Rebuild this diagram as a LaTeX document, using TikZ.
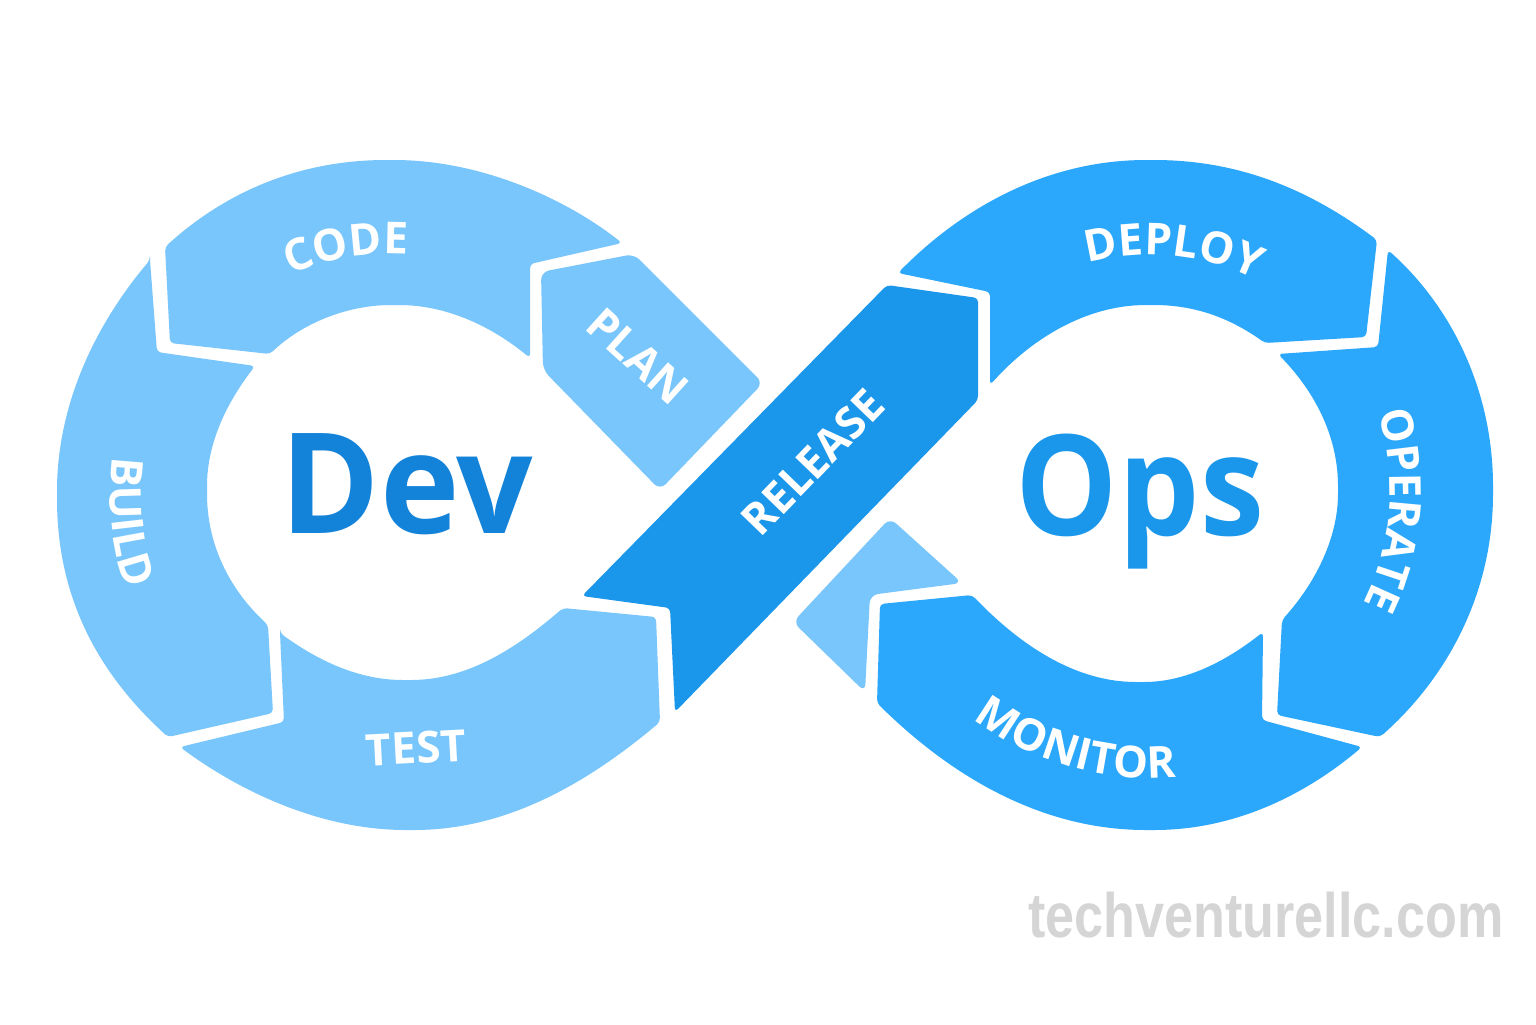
\documentclass[tikz,border=0pt]{standalone}
\usepackage{fontspec}
\usetikzlibrary{decorations.text}
\newfontfamily\osans{Open Sans}
\newfontfamily\lsans{Liberation Sans}
\newcommand\labfont{\osans\bfseries\fontsize{22}{22}\selectfont}
\definecolor{lightb}{HTML}{78C6FB}
\definecolor{relb}{HTML}{1A96EA}
\definecolor{opsb}{HTML}{2BA7FC}
\definecolor{devtxt}{HTML}{1382D9}
\definecolor{opstxt}{HTML}{1A97EB}
\definecolor{wmark}{HTML}{D5D5D5}
\tikzset{
  seg/.style={rounded corners=2pt},
  lab/.style={text=white, font=\labfont, inner sep=0pt},
  big/.style={font=\osans\bfseries\fontsize{70}{70}\selectfont, inner sep=0pt, anchor=base},
  arclab/.style={decorate, decoration={text along path, text={|\labfont|#1}, text align=center, text color=white}}
}
\begin{document}
\begin{tikzpicture}[x=0.5pt,y=-0.5pt]
\path[use as bounding box, fill=white] (0,0) rectangle (1536,1024);

% ---------- left loop ----------
% CODE
\fill[lightb, seg] (165,247) .. controls (230,188) and (305,160) .. (390,160)
  .. controls (480,160) and (565,198) .. (622,243)
  -- (530,264) -- (530,358)
  .. controls (490,325) and (445,305) .. (395,305)
  .. controls (345,305) and (300,325) .. (270,354)
  -- (170,343) -- cycle;
% BUILD
\fill[lightb, seg] (150,260) -- (157,352) -- (255,366)
  .. controls (225,405) and (207,445) .. (207,490)
  .. controls (207,545) and (230,590) .. (268,625)
  -- (273,713) -- (168,737)
  .. controls (100,675) and (57,600) .. (57,495)
  .. controls (57,405) and (95,325) .. (150,260) -- cycle;
% TEST
\fill[lightb, seg] (280,633) -- (284,722) -- (180,747)
  .. controls (245,795) and (325,830) .. (410,830)
  .. controls (505,830) and (585,785) .. (660,722)
  -- (656,617) -- (563,608)
  .. controls (520,645) and (470,680) .. (407,680)
  .. controls (360,680) and (320,662) .. (280,633) -- cycle;
% PLAN
\fill[lightb, rounded corners=4pt] (541,272) -- (634,254) -- (763,383) -- (660,490) -- (543,370) -- cycle;
% small light piece
\fill[lightb, rounded corners=4pt] (890,518) -- (962,583) -- (870,595) -- (865,692) -- (793,622) -- cycle;

% ---------- RELEASE ----------
\fill[relb, seg] (887,285) -- (978,298) -- (978,400) -- (675,712) -- (670,608) -- (582,596) -- cycle;

% ---------- right loop ----------
% DEPLOY
\fill[opsb, seg] (898,273) .. controls (965,205) and (1050,160) .. (1150,160)
  .. controls (1240,160) and (1310,190) .. (1377,240)
  -- (1366,337) -- (1265,343)
  .. controls (1230,318) and (1195,305) .. (1150,305)
  .. controls (1085,305) and (1030,340) .. (990,385)
  -- (990,292) -- cycle;
% OPERATE
\fill[opsb, seg] (1388,250) .. controls (1455,310) and (1493,395) .. (1493,490)
  .. controls (1493,590) and (1450,675) .. (1380,737)
  -- (1277,715) -- (1282,620)
  .. controls (1318,580) and (1338,535) .. (1338,490)
  .. controls (1338,440) and (1318,395) .. (1278,354)
  -- (1378,347) -- cycle;
% MONITOR
\fill[opsb, seg] (877,703) .. controls (955,780) and (1045,830) .. (1150,830)
  .. controls (1235,830) and (1305,795) .. (1362,747)
  -- (1262,720) -- (1263,632)
  .. controls (1225,662) and (1185,682) .. (1140,682)
  .. controls (1075,682) and (1020,645) .. (972,595)
  -- (880,604) -- cycle;

% ---------- big words ----------
\node[big, text=devtxt] (dev) at (407,533) {\scalebox{0.96}[1]{Dev}};
\node[big, text=opstxt] (ops) at (1140,535) {\scalebox{0.92}[1]{Ops}};

% ---------- labels ----------
\path[arclab=CODE] (390,495) ++(-128:241) arc[start angle=-128, end angle=-72, radius=241];
\path[arclab=DEPLOY] (1150,495) ++(-113:240) arc[start angle=-113, end angle=-56, radius=240];
\path[arclab=BUILD] (390,495) ++(200:280) arc[start angle=200, end angle=148, radius=280];
\path[arclab=OPERATE] (1140,490) ++(-24:250) arc[start angle=-24, end angle=33, radius=250];
\path[arclab=MONITOR] (1150,485) ++(129:293) arc[start angle=129, end angle=83, radius=293];

\node[lab, rotate=-42] (plan) at (638,356) {PLAN};
\node[lab, rotate=46] (release) at (813,462) {RELEASE};
\node[lab, rotate=3] (test) at (416,748) {TEST};

% ---------- watermark ----------
\node[anchor=base west, inner sep=0pt, text=wmark, font=\lsans\bfseries\fontsize{31.4}{31.4}\selectfont] (wm) at (1028,937) {\scalebox{0.83}[1]{techventurellc.com}};
\end{tikzpicture}
\end{document}
